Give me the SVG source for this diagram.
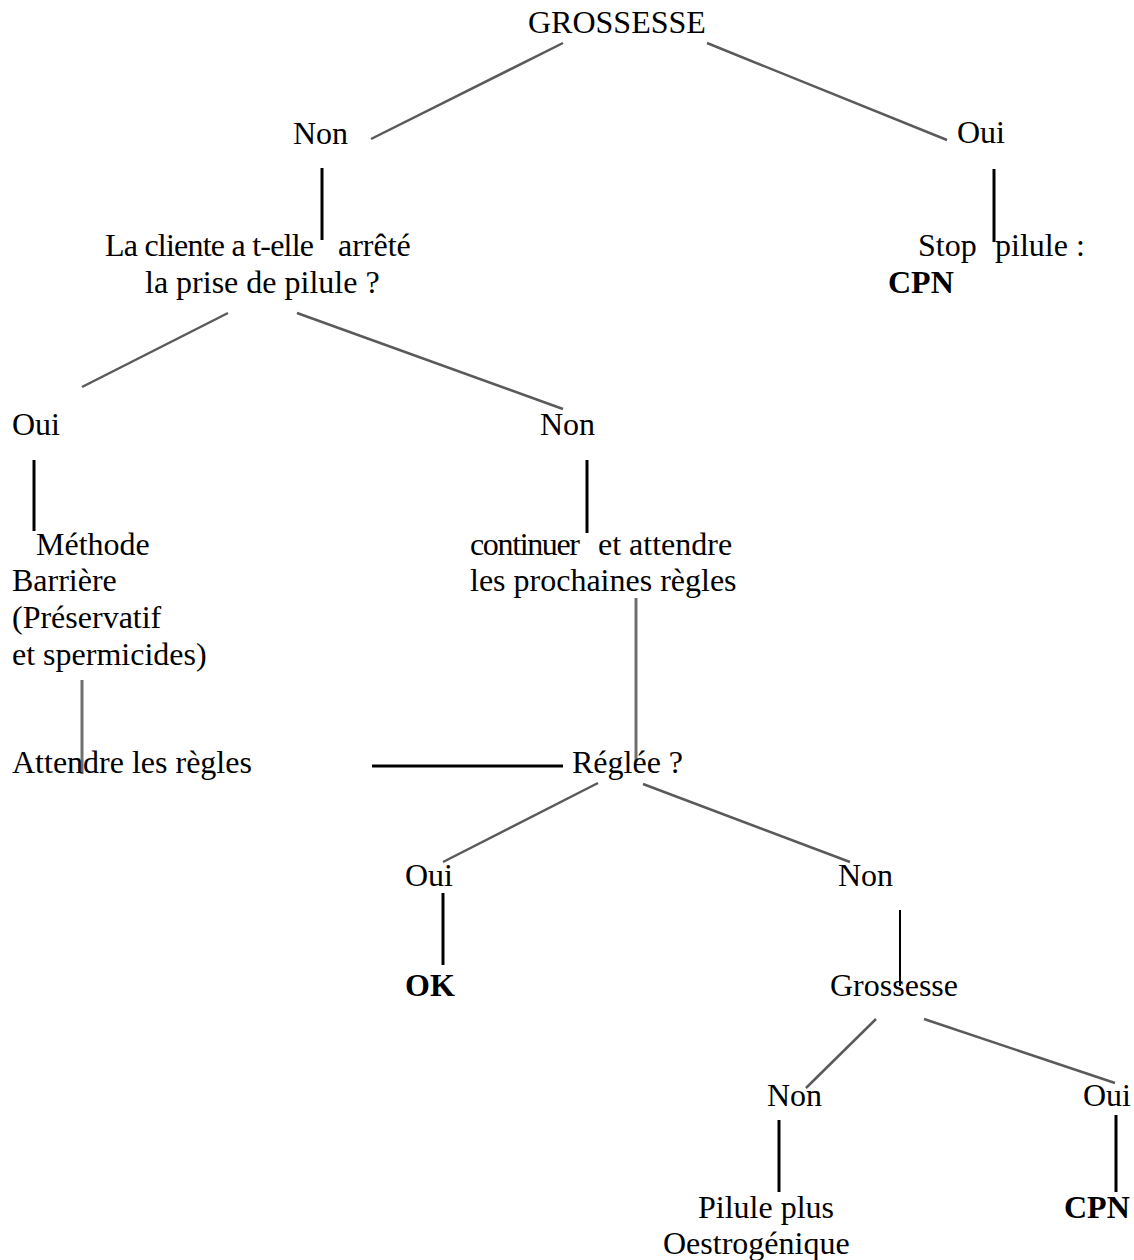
<svg xmlns="http://www.w3.org/2000/svg" width="1134" height="1260" viewBox="0 0 1134 1260">
  <style>
    text { font-family: "Liberation Serif", "Times New Roman", serif; font-size: 32px; fill: #000; }
    .b { font-weight: bold; }
    .diag { stroke: #5a5a5a; stroke-width: 2.5; fill: none; stroke-linecap: butt; }
    .stem { stroke: #000; stroke-width: 3; fill: none; }
    .thin { stroke: #000; stroke-width: 2; fill: none; }
    .grey { stroke: #6e6e6e; stroke-width: 3; fill: none; }
  </style>
  <rect width="1134" height="1260" fill="#fff"/>

  <!-- connectors -->
  <g id="connectors">
    <line class="diag" x1="563" y1="43" x2="371" y2="139"/>
    <line class="diag" x1="707" y1="43" x2="947" y2="140"/>
    <line class="stem" x1="322" y1="168" x2="322" y2="240"/>
    <line class="stem" x1="994" y1="169" x2="994" y2="242"/>
    <line class="diag" x1="228" y1="313" x2="82" y2="387"/>
    <line class="diag" x1="297" y1="313" x2="563" y2="409"/>
    <line class="stem" x1="34" y1="460" x2="34" y2="531"/>
    <line class="stem" x1="587" y1="460" x2="587" y2="533"/>
    <line class="grey" x1="82" y1="680" x2="82" y2="774"/>
    <line class="grey" x1="636" y1="598" x2="636" y2="762"/>
    <line class="stem" x1="372" y1="766" x2="563" y2="766"/>
    <line class="diag" x1="598" y1="783" x2="443" y2="862"/>
    <line class="diag" x1="643" y1="784" x2="850" y2="862"/>
    <line class="stem" x1="443" y1="893" x2="443" y2="965"/>
    <line class="thin" x1="900" y1="910" x2="900" y2="986"/>
    <line class="diag" x1="876" y1="1019" x2="806" y2="1088"/>
    <line class="diag" x1="924" y1="1019" x2="1115" y2="1083"/>
    <line class="stem" x1="779" y1="1120" x2="779" y2="1192"/>
    <line class="stem" x1="1116" y1="1115" x2="1116" y2="1192"/>
  </g>

  <!-- nodes -->
  <g id="n-grossesse"><text x="528" y="33">GROSSESSE</text></g>
  <g id="n-non-1"><text x="293" y="144">Non</text></g>
  <g id="n-oui-1"><text x="957" y="143">Oui</text></g>
  <g id="n-stop"><text x="918" y="256">Stop<tspan x="995">pilule :</tspan></text><text class="b" x="888" y="293">CPN</text></g>
  <g id="n-cliente">
    <text x="105" y="256" textLength="209" lengthAdjust="spacing">La cliente a t-elle</text>
    <text x="338" y="256">arrêté</text>
    <text x="145" y="293">la prise de pilule ?</text>
  </g>
  <g id="n-oui-2"><text x="12" y="435">Oui</text></g>
  <g id="n-non-2"><text x="540" y="435">Non</text></g>
  <g id="n-methode">
    <text x="36" y="555">Méthode</text>
    <text x="12" y="591">Barrière</text>
    <text x="12" y="628">(Préservatif</text>
    <text x="12" y="665">et spermicides)</text>
  </g>
  <g id="n-continuer">
    <text x="470" y="555" textLength="110" lengthAdjust="spacing">continuer</text>
    <text x="598" y="555">et attendre</text>
    <text x="470" y="591">les prochaines règles</text>
  </g>
  <g id="n-attendre"><text x="12" y="773">Attendre les règles</text></g>
  <g id="n-reglee"><text x="572" y="773">Réglée ?</text></g>
  <g id="n-oui-3"><text x="405" y="886">Oui</text></g>
  <g id="n-non-3"><text x="838" y="886">Non</text></g>
  <g id="n-ok"><text class="b" x="405" y="996">OK</text></g>
  <g id="n-grossesse-2"><text x="830" y="996">Grossesse</text></g>
  <g id="n-non-4"><text x="767" y="1106">Non</text></g>
  <g id="n-oui-4"><text x="1083" y="1106">Oui</text></g>
  <g id="n-pilule"><text x="698" y="1218">Pilule plus</text><text x="663" y="1254">Oestrogénique</text></g>
  <g id="n-cpn"><text class="b" x="1064" y="1218">CPN</text></g>
</svg>
